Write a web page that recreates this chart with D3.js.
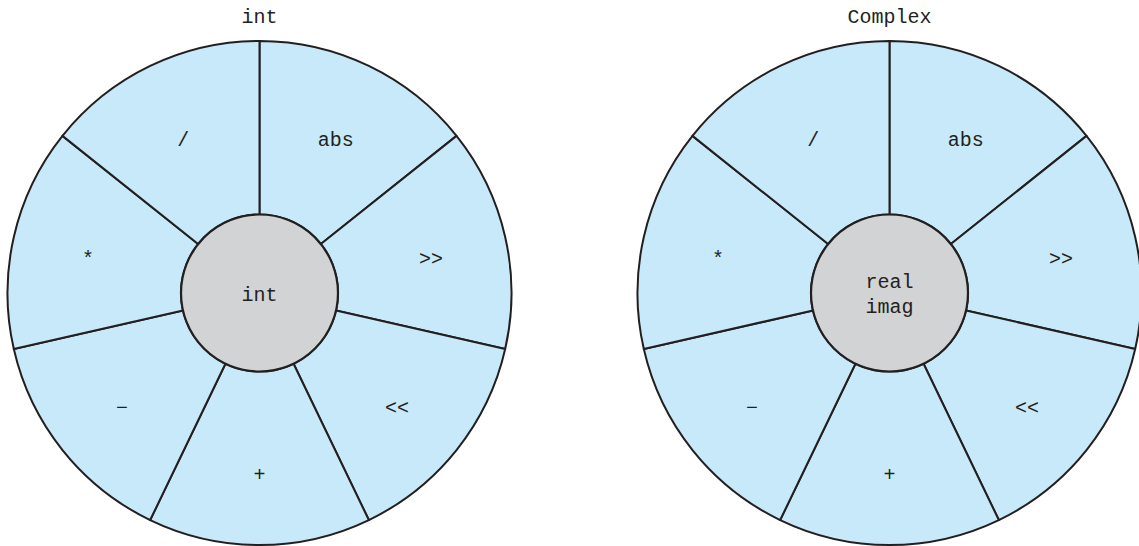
<!DOCTYPE html>
<html>
<head>
<meta charset="utf-8">
<script src="https://cdn.jsdelivr.net/npm/d3@7"></script>
<style>
  html, body { margin: 0; padding: 0; background: #fff; }
  svg { display: block; }
</style>
</head>
<body>
<svg id="chart" width="1139" height="546"></svg>
<script>
// Two "object" wheels: operations around the outside, state in the middle.

const TITLES = ["int", "Complex"];
const OPERATIONS = ["abs", ">>", "<<", "+", "\u2212", "*", "/"];
const CENTER_LABELS = [["int"], ["real", "imag"]];

const OUTER_R = 252, INNER_R = 78.5, LABEL_R = 176;
const STROKE = "#231f20";
const FONT = "'Courier New', 'Liberation Mono', monospace";
const FONT_SIZE = "20px";

const svg = d3.select("#chart");

const cx = d3.scalePoint().domain(TITLES).range([259.5, 889.5]);
const cy = 293;

const pie = d3.pie().value(1).sort(null);
const arc = d3.arc().innerRadius(INNER_R).outerRadius(OUTER_R);
const labelArc = d3.arc().innerRadius(LABEL_R).outerRadius(LABEL_R);

TITLES.forEach((title, i) => {
  const g = svg.append("g").attr("transform", `translate(${cx(title)},${cy})`);

  g.selectAll("path.slice").data(pie(OPERATIONS)).join("path")
    .attr("class", "slice")
    .attr("d", arc)
    .attr("fill", "#c7e9f9")
    .attr("stroke", STROKE).attr("stroke-width", 2).attr("stroke-linejoin", "round");

  g.selectAll("text.op").data(pie(OPERATIONS)).join("text")
    .attr("class", "op")
    .attr("transform", d => `translate(${labelArc.centroid(d)})`)
    .attr("dy", 6)
    .attr("text-anchor", "middle").attr("dominant-baseline", "central")
    .style("font-family", FONT).style("font-size", FONT_SIZE).style("fill", STROKE)
    .text(d => d.data);

  g.append("circle").attr("r", INNER_R)
    .attr("fill", "#d1d3d4").attr("stroke", STROKE).attr("stroke-width", 2.2);

  const lines = CENTER_LABELS[i];
  const lh = 25;
  g.append("g").selectAll("text").data(lines).join("text")
    .attr("y", (d, k) => (k - (lines.length - 1) / 2) * lh + 2)
    .attr("text-anchor", "middle").attr("dominant-baseline", "central")
    .style("font-family", FONT).style("font-size", FONT_SIZE).style("fill", STROKE)
    .text(d => d);

  svg.append("text")
    .attr("x", cx(title)).attr("y", 23)
    .attr("text-anchor", "middle")
    .style("font-family", FONT).style("font-size", FONT_SIZE).style("fill", STROKE)
    .text(title);
});
</script>
</body>
</html>
